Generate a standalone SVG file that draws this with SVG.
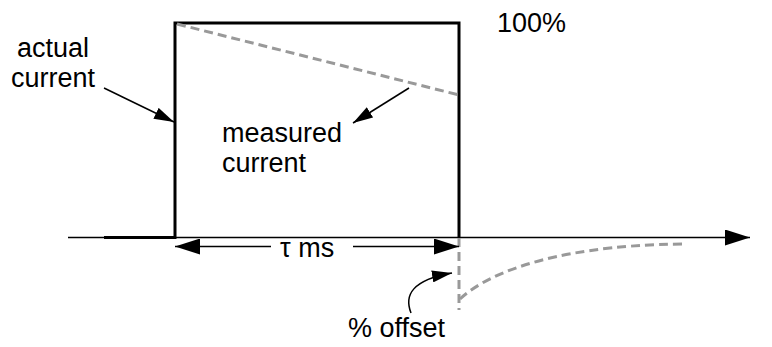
<svg xmlns="http://www.w3.org/2000/svg" width="772" height="347" viewBox="0 0 772 347">
<style>
text{font-family:"Liberation Sans",Arial,sans-serif;font-size:27px;fill:#000}
.thick{stroke:#000;stroke-width:3;fill:none}
.thin{stroke:#000;stroke-width:1.5;fill:none}
.dash{stroke:#999;stroke-width:3;fill:none;stroke-dasharray:9,5}
</style>
<defs>
<marker id="ah" viewBox="0 0 20 12" refX="20" refY="6" markerWidth="20" markerHeight="12" markerUnits="userSpaceOnUse" orient="auto">
<path d="M0,0 L20,6 L0,12 Z" fill="#000"/>
</marker>
<marker id="ahb" viewBox="0 0 25 16" refX="25" refY="8" markerWidth="25" markerHeight="16" markerUnits="userSpaceOnUse" orient="auto">
<path d="M0,0 L25,8 L0,16 Z" fill="#000"/>
</marker>
</defs>
<g id="axis">
<line x1="68" y1="237.5" x2="750" y2="237.5" class="thin" marker-end="url(#ahb)"/>
</g>
<g id="actual-pulse">
<path d="M104,237.5 H175 V23 H459 V237.5" class="thick"/>
</g>
<g id="measured-pulse">
<path d="M177,24 L459,95" class="dash"/>
<path d="M459,238 V310" class="dash"/>
<path d="M460,299 C480,280 540,245 685,244" class="dash"/>
</g>
<g id="connectors">
<line x1="104" y1="88" x2="174" y2="122" class="thin" marker-end="url(#ah)"/>
<line x1="409" y1="88" x2="353" y2="123" class="thin" marker-end="url(#ah)"/>
<line x1="271" y1="246.5" x2="175" y2="246.5" class="thin" marker-end="url(#ahb)"/>
<line x1="353" y1="246.5" x2="459" y2="246.5" class="thin" marker-end="url(#ahb)"/>
<path d="M411,313 C404,295 412,280 452,273" class="thin" marker-end="url(#ah)"/>
</g>
<g id="labels">
<text x="17" y="57">actual</text>
<text x="11" y="87">current</text>
<text x="222" y="142">measured</text>
<text x="222" y="172">current</text>
<text x="497" y="32">100%</text>
<text x="280" y="257">τ ms</text>
<text x="348" y="337">% offset</text>
</g>
</svg>
